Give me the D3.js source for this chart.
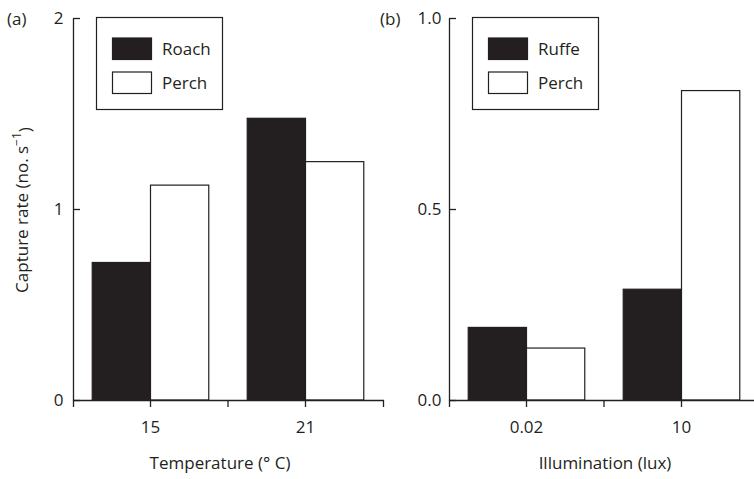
<!DOCTYPE html>
<html><head><meta charset="utf-8">
<script src="https://cdn.jsdelivr.net/npm/d3@7"></script>
<style>
body{margin:0;background:#fff;}
text{font-family:"Open Sans",sans-serif;fill:#231f20;}
</style></head>
<body><svg id="c" width="754" height="479"></svg>
<script>
// Panel (a)
const tempCategories = ["15", "21"];
const tempSeries = ["Roach", "Perch"];
const roachRates = [0.72, 1.475];
const perchRatesA = [1.125, 1.248];
const yTicksA = [0, 1, 2];
// Panel (b)
const luxCategories = ["0.02", "10"];
const luxSeries = ["Ruffe", "Perch"];
const ruffeRates = [0.19, 0.29];
const perchRatesB = [0.136, 0.81];
const yTicksB = [0, 0.5, 1.0];

const ink = "#231f20";
const FONT = "'Open Sans', sans-serif";
const FS = 17;
const svg = d3.select("#c");
const plotTop = 18, plotBottom = 400;

function panel(opt){
  const g = svg.append("g");
  const x0 = d3.scaleBand().domain(opt.cats).range([opt.left, opt.left + 310]).padding(0);
  const x1 = d3.scaleBand().domain(opt.series).range([0, x0.bandwidth()]).paddingInner(0).paddingOuter(0.33);
  const y = d3.scaleLinear().domain(opt.yDomain).range([plotBottom, plotTop]);
  const fills = ["#231f20", "#ffffff"];
  const rows = opt.cats.map((c,i)=>({cat:c, vals: opt.values.map((v,j)=>({s:opt.series[j], v:v[i], j}))}));
  const grp = g.selectAll("g.grp").data(rows).join("g").attr("transform", d=>`translate(${x0(d.cat)},0)`);
  grp.selectAll("rect").data(d=>d.vals).join("rect")
    .attr("x", d=>x1(d.s)).attr("width", x1.bandwidth())
    .attr("y", d=>y(d.v)).attr("height", d=>plotBottom - y(d.v))
    .attr("fill", d=>fills[d.j]).attr("stroke", ink).attr("stroke-width", 1.2);

  // x axis
  const xa = g.append("g").attr("transform", `translate(0,${plotBottom})`)
    .call(d3.axisBottom(x0).tickSize(7).tickSizeOuter(7).tickPadding(14));
  xa.select(".domain").attr("stroke", ink).attr("stroke-width", 1.3);
  xa.selectAll(".tick line").attr("stroke", ink).attr("stroke-width", 1.3);
  xa.selectAll("text").attr("font-size", FS).attr("font-family", FONT).attr("fill", ink);
  xa.selectAll("line.sep").data(opt.cats.slice(1)).join("line").attr("class","sep")
    .attr("x1", d=>x0(d)).attr("x2", d=>x0(d)).attr("y1", 0).attr("y2", 7)
    .attr("stroke", ink).attr("stroke-width", 1.3);

  // y axis
  const ya = g.append("g").attr("transform", `translate(${opt.left},0)`)
    .call(d3.axisLeft(y).tickValues(opt.yTicks).tickFormat(d3.format(opt.fmt)).tickSize(-7).tickSizeOuter(0).tickPadding(opt.pad));
  ya.select(".domain").attr("stroke", ink).attr("stroke-width", 1.3);
  ya.selectAll(".tick line").attr("stroke", ink).attr("stroke-width", 1.3);
  ya.selectAll("text").attr("font-size", FS).attr("font-family", FONT).attr("fill", ink);

  // x label
  g.append("text").attr("x", opt.left + 155 + opt.xlabDx).attr("y", 469)
    .attr("text-anchor", "middle").attr("font-size", FS).text(opt.xlab);

  // panel tag
  g.append("text").attr("x", opt.tagX).attr("y", 25).attr("font-size", FS).text(opt.tag);

  // legend
  const lg = g.append("g").attr("transform", `translate(${opt.left + 23.5},17.5)`);
  lg.append("rect").attr("width", 126).attr("height", 92).attr("fill", "#fff").attr("stroke", ink).attr("stroke-width", 1.2);
  opt.series.forEach((s,j)=>{
    lg.append("rect").attr("x", 16).attr("y", 20.5 + j*34).attr("width", 39).attr("height", 21.5)
      .attr("fill", fills[j]).attr("stroke", ink).attr("stroke-width", 1.2);
    lg.append("text").attr("x", 65.5).attr("y", 37.5 + j*34).attr("font-size", FS).text(s);
  });
}

panel({left:73, cats:tempCategories, series:tempSeries, values:[roachRates, perchRatesA],
  yDomain:[0,2], yTicks:yTicksA, fmt:"d", pad:9.5, xlab:"Temperature (\u00B0 C)", xlabDx:-8, tag:"(a)", tagX:7});
panel({left:449, cats:luxCategories, series:luxSeries, values:[ruffeRates, perchRatesB],
  yDomain:[0,1], yTicks:yTicksB, fmt:".1f", pad:7.5, xlab:"Illumination (lux)", xlabDx:1, tag:"(b)", tagX:380});

// y label
const yl = svg.append("text").attr("transform", "translate(28,210) rotate(-90)")
  .attr("text-anchor", "middle").attr("font-size", FS);
yl.append("tspan").text("Capture rate (no. s");
yl.append("tspan").attr("dy", "-0.55em").attr("font-size", 12).text("\u22121");
yl.append("tspan").attr("dy", "0.55em").text(")");
</script></body></html>
